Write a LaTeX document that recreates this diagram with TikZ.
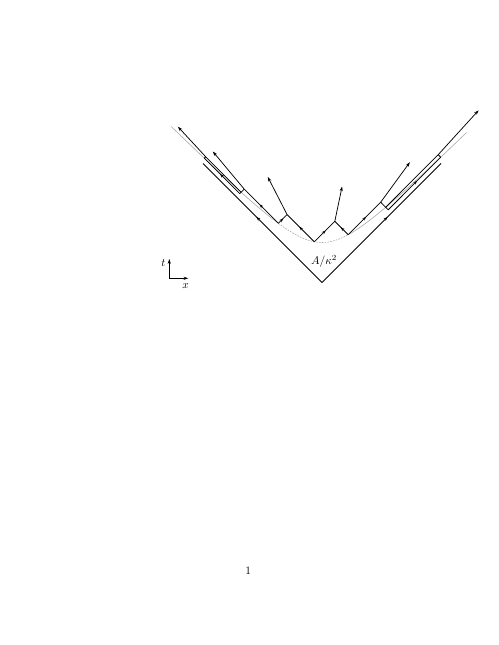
\documentclass[tikz,border=0pt]{standalone}
\usetikzlibrary{arrows.meta,decorations.markings}
\begin{document}
\begin{tikzpicture}[x=0.031cm,y=-0.031cm,line width=0.65pt,
  mid/.style={postaction={decorate},decoration={markings,mark=at position 0.55 with {\arrow{Stealth[length=3.4pt,width=2.6pt]}}}},
  tip/.style={-{Stealth[length=4.2pt,width=2.8pt]}},
  world/.style={gray!70,line width=0.5pt,samples=40,smooth,variable=\e}]
\useasboundingbox (0,0) rectangle (498,645);

\coordinate (o) at (322,282.5);
\coordinate (el) at (203,163.5);
\coordinate (er) at (441,163.5);
\coordinate (pl3) at (204.3,158.2);
\coordinate (tl) at (205.7,156.8);
\coordinate (pl2) at (241.1,192.2);
\coordinate (bl) at (239.7,193.6);
\coordinate (vl2) at (244.2,189.1);
\coordinate (pl1) at (278.4,223.3);
\coordinate (vl1) at (287.1,214.6);
\coordinate (pm) at (314.3,241.8);
\coordinate (vr1) at (334.8,221.3);
\coordinate (pr1) at (348.2,234.7);
\coordinate (vr2) at (380.7,202.2);
\coordinate (pr2) at (385.7,207.3);
\coordinate (tr) at (438.2,154.7);
\coordinate (pr3) at (440.7,157.2);
\coordinate (br) at (388.2,209.8);
\coordinate (hl0) at (177.9,126.7);
\coordinate (hl2) at (212.8,151.5);
\coordinate (hl1) at (267.7,176.8);
\coordinate (hr1) at (342.1,186.5);
\coordinate (hr2) at (409.9,162.2);
\coordinate (hr0) at (478.6,110.3);

\draw[world,domain=-2.037:-0.9445] plot ({322+40*sinh(\e)},{282.5-40*cosh(\e)});
\draw[world,dash pattern=on 1.5pt off 1pt,domain=-0.9445:0.6159] plot ({322+40*sinh(\e)},{282.5-40*cosh(\e)});
\draw[world,domain=0.6159:1.997] plot ({322+40*sinh(\e)},{282.5-40*cosh(\e)});

\draw[mid] (o) -- (el);
\draw[mid] (o) -- (er);

\draw[mid] (bl) -- (pl3);
\draw (pl3) -- (tl) -- (pl2) -- (bl);
\draw[mid] (br) -- (pr3);
\draw (pr3) -- (tr) -- (pr2) -- (br);

\draw (pl2) -- (vl2);
\draw[mid] (pl1) -- (vl2);
\draw[mid] (pl1) -- (vl1);
\draw[mid] (pm) -- (vl1);
\draw[mid] (pm) -- (vr1);
\draw[mid] (pr1) -- (vr1);
\draw[mid] (pr1) -- (vr2);
\draw (pr2) -- (vr2);

\draw[tip] (tl) -- (hl0);
\draw[tip] (vl2) -- (hl2);
\draw[tip] (vl1) -- (hl1);
\draw[tip] (vr1) -- (hr1);
\draw[tip] (vr2) -- (hr2);
\draw[tip] (tr) -- (hr0);

\node (area) at (324,261.7) {$A/\kappa^2$};

\coordinate (ax) at (169.3,278.3);
\coordinate (axt) at (169.3,259);
\coordinate (axx) at (188.3,278.3);
\draw[tip] (ax) -- (axt);
\draw[tip] (ax) -- (axx);
\node (tlab) at (163.5,263) {$t$};
\node (xlab) at (185.7,286) {$x$};

\node (pnum) at (248.3,570.3) {1};
\end{tikzpicture}
\end{document}
